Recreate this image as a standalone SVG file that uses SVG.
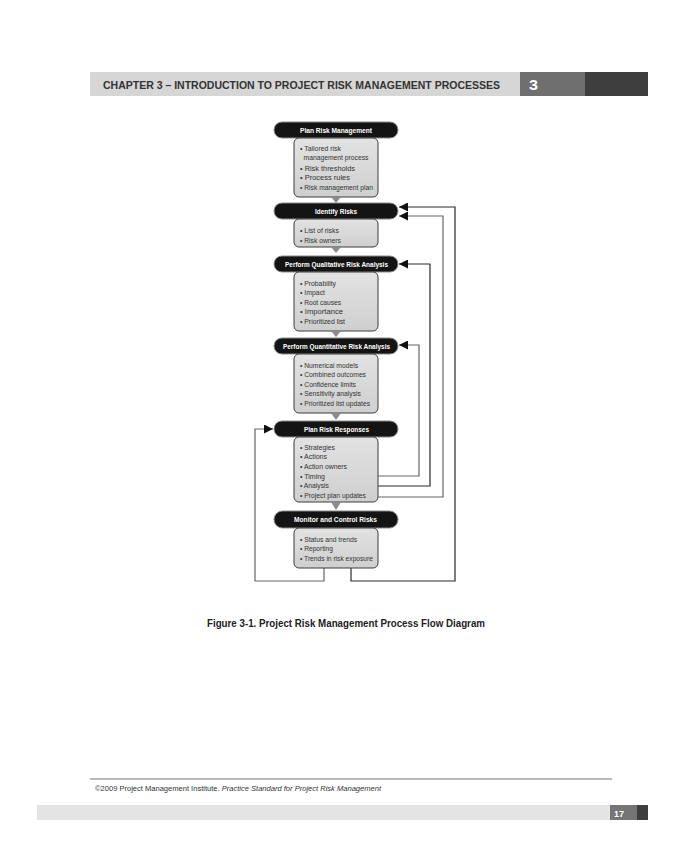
<svg xmlns="http://www.w3.org/2000/svg" width="684" height="864" viewBox="0 0 684 864">
  <defs>
    <linearGradient id="boxFill" x1="0" y1="0" x2="0" y2="1">
      <stop offset="0" stop-color="#e2e2e2"/>
      <stop offset="1" stop-color="#cfcfcf"/>
    </linearGradient>
    <marker id="arrow" viewBox="0 0 10 10" refX="10" refY="5" markerWidth="10" markerHeight="9" markerUnits="userSpaceOnUse" orient="auto">
      <path d="M0,0 L10,5 L0,10 Z" fill="#111"/>
    </marker>
  </defs>
  <style>
    .hdr { font-family: "Liberation Sans", "DejaVu Sans Condensed", sans-serif; font-weight: bold; }
    .pill { fill: #141414; stroke: #8a8a8a; stroke-width: 1; }
    .pill-text { font-family: "Liberation Sans", "DejaVu Sans Condensed", sans-serif; font-weight: bold; font-size: 7px; fill: #ffffff; }
    .box { fill: url(#boxFill); stroke: #3c3c3c; stroke-width: 1; }
    .item { font-family: "Liberation Sans", "DejaVu Sans Condensed", sans-serif; font-size: 7.3px; fill: #333333; }
    .tri { fill: #8c8c8c; }
    .link { fill: none; stroke-width: 1.2; }
    .dark { stroke: #2a2a2a; }
    .grey { stroke: #666666; }
  </style>

  <rect width="684" height="864" fill="#ffffff"/>

  <!-- page header -->
  <g id="header">
    <rect x="90" y="72" width="430" height="24" fill="#d6d6d6"/>
    <rect x="520" y="72" width="65" height="24" fill="#6f6f6f"/>
    <rect x="585" y="72" width="63" height="24" fill="#3e3e3e"/>
    <text class="hdr" x="103" y="89" font-size="11" fill="#333333" textLength="397" lengthAdjust="spacingAndGlyphs">CHAPTER 3 – INTRODUCTION TO PROJECT RISK MANAGEMENT PROCESSES</text>
    <text class="hdr" x="529" y="90" font-size="15" fill="#ffffff" textLength="9" lengthAdjust="spacingAndGlyphs">3</text>
  </g>

  <!-- connectors -->
  <g id="connectors">
    <!-- Plan Risk Responses back to Quantitative -->
    <polyline class="link grey" points="377,476 419,476 419,345 399,345" marker-end="url(#arrow)"/>
    <!-- Plan Risk Responses back to Qualitative -->
    <polyline class="link dark" points="377,486 430,486 430,264 399,264" marker-end="url(#arrow)"/>
    <!-- Plan Risk Responses back to Identify Risks -->
    <polyline class="link grey" points="377,497 443,497 443,216 399,216" marker-end="url(#arrow)"/>
    <!-- Monitor back to Identify Risks -->
    <polyline class="link dark" points="351,568 351,581 455,581 455,207 399,207" marker-end="url(#arrow)"/>
    <!-- Monitor back to Plan Risk Responses -->
    <polyline class="link grey" points="324,568 324,581 255,581 255,429 273,429" marker-end="url(#arrow)"/>
  </g>

  <!-- process steps -->
  <g id="plan-risk-management">
    <rect class="pill" x="274" y="122" width="124" height="16" rx="8"/>
    <text class="pill-text" x="300" y="132.5" textLength="72" lengthAdjust="spacingAndGlyphs">Plan Risk Management</text>
    <rect class="box" x="294" y="138" width="84" height="59" rx="5"/>
    <text class="item" x="300" y="150.5" textLength="41" lengthAdjust="spacingAndGlyphs">• Tailored risk</text>
    <text class="item" x="303.5" y="160" textLength="65" lengthAdjust="spacingAndGlyphs">management process</text>
    <text class="item" x="300" y="170.5" textLength="55" lengthAdjust="spacingAndGlyphs">• Risk thresholds</text>
    <text class="item" x="300" y="180" textLength="50" lengthAdjust="spacingAndGlyphs">• Process rules</text>
    <text class="item" x="300" y="189.5" textLength="73" lengthAdjust="spacingAndGlyphs">• Risk management plan</text>
    <polygon class="tri" points="331,197 341,197 336,203"/>
  </g>

  <g id="identify-risks">
    <rect class="pill" x="274" y="203" width="124" height="16" rx="8"/>
    <text class="pill-text" x="315" y="213.5" textLength="42" lengthAdjust="spacingAndGlyphs">Identify Risks</text>
    <rect class="box" x="294" y="219" width="84" height="28" rx="5"/>
    <text class="item" x="300" y="233" textLength="39" lengthAdjust="spacingAndGlyphs">• List of risks</text>
    <text class="item" x="300" y="243" textLength="41" lengthAdjust="spacingAndGlyphs">• Risk owners</text>
    <polygon class="tri" points="331,247 341,247 336,253"/>
  </g>

  <g id="qualitative-analysis">
    <rect class="pill" x="274" y="256" width="124" height="16" rx="8"/>
    <text class="pill-text" x="285" y="266.5" textLength="103" lengthAdjust="spacingAndGlyphs">Perform Qualitative Risk Analysis</text>
    <rect class="box" x="294" y="272" width="84" height="59" rx="5"/>
    <text class="item" x="300" y="285.5" textLength="36" lengthAdjust="spacingAndGlyphs">• Probability</text>
    <text class="item" x="300" y="295" textLength="25" lengthAdjust="spacingAndGlyphs">• Impact</text>
    <text class="item" x="300" y="304.5" textLength="41" lengthAdjust="spacingAndGlyphs">• Root causes</text>
    <text class="item" x="300" y="314" textLength="43" lengthAdjust="spacingAndGlyphs">• Importance</text>
    <text class="item" x="300" y="323.5" textLength="45" lengthAdjust="spacingAndGlyphs">• Prioritized list</text>
    <polygon class="tri" points="331,331 341,331 336,337"/>
  </g>

  <g id="quantitative-analysis">
    <rect class="pill" x="274" y="338" width="124" height="16" rx="8"/>
    <text class="pill-text" x="283" y="348.5" textLength="107" lengthAdjust="spacingAndGlyphs">Perform Quantitative Risk Analysis</text>
    <rect class="box" x="294" y="354" width="84" height="59" rx="5"/>
    <text class="item" x="300" y="367.5" textLength="58" lengthAdjust="spacingAndGlyphs">• Numerical models</text>
    <text class="item" x="300" y="377" textLength="66" lengthAdjust="spacingAndGlyphs">• Combined outcomes</text>
    <text class="item" x="300" y="386.5" textLength="56" lengthAdjust="spacingAndGlyphs">• Confidence limits</text>
    <text class="item" x="300" y="396" textLength="61" lengthAdjust="spacingAndGlyphs">• Sensitivity analysis</text>
    <text class="item" x="300" y="405.5" textLength="70" lengthAdjust="spacingAndGlyphs">• Prioritized list updates</text>
    <polygon class="tri" points="331,413 341,413 336,420"/>
  </g>

  <g id="plan-risk-responses">
    <rect class="pill" x="274" y="421" width="124" height="16" rx="8"/>
    <text class="pill-text" x="304" y="431.5" textLength="65" lengthAdjust="spacingAndGlyphs">Plan Risk Responses</text>
    <rect class="box" x="294" y="437" width="84" height="65" rx="5"/>
    <text class="item" x="300" y="449.5" textLength="35" lengthAdjust="spacingAndGlyphs">• Strategies</text>
    <text class="item" x="300" y="459" textLength="27" lengthAdjust="spacingAndGlyphs">• Actions</text>
    <text class="item" x="300" y="469" textLength="47" lengthAdjust="spacingAndGlyphs">• Action owners</text>
    <text class="item" x="300" y="478.5" textLength="25" lengthAdjust="spacingAndGlyphs">• Timing</text>
    <text class="item" x="300" y="488" textLength="29" lengthAdjust="spacingAndGlyphs">• Analysis</text>
    <text class="item" x="300" y="498" textLength="66" lengthAdjust="spacingAndGlyphs">• Project plan updates</text>
    <polygon class="tri" points="331,502 341,502 336,510"/>
  </g>

  <g id="monitor-control">
    <rect class="pill" x="274" y="511" width="124" height="17" rx="8.5"/>
    <text class="pill-text" x="294" y="522" textLength="83" lengthAdjust="spacingAndGlyphs">Monitor and Control Risks</text>
    <rect class="box" x="294" y="528" width="84" height="40" rx="5"/>
    <text class="item" x="300" y="541.5" textLength="57" lengthAdjust="spacingAndGlyphs">• Status and trends</text>
    <text class="item" x="300" y="551" textLength="33" lengthAdjust="spacingAndGlyphs">• Reporting</text>
    <text class="item" x="300" y="560.5" textLength="73" lengthAdjust="spacingAndGlyphs">• Trends in risk exposure</text>
  </g>

  <!-- caption -->
  <g id="caption">
    <text class="hdr" x="207" y="627" font-size="10.5" fill="#222222" textLength="278" lengthAdjust="spacingAndGlyphs">Figure 3-1. Project Risk Management Process Flow Diagram</text>
  </g>

  <!-- page footer -->
  <g id="footer">
    <line x1="90" y1="779" x2="612" y2="779" stroke="#777777" stroke-width="1"/>
    <text x="95" y="791" font-family="'Liberation Sans', 'DejaVu Sans Condensed', sans-serif" font-size="7.5" fill="#333333" textLength="286" lengthAdjust="spacingAndGlyphs">©2009 Project Management Institute. <tspan font-style="italic">Practice Standard for Project Risk Management</tspan></text>
    <rect x="37" y="805" width="573" height="15" fill="#e4e4e4"/>
    <rect x="610" y="805" width="27" height="15" fill="#757575"/>
    <rect x="637" y="805" width="11" height="15" fill="#3e3e3e"/>
    <text class="hdr" x="614" y="816.5" font-size="9.5" fill="#ffffff" textLength="10" lengthAdjust="spacingAndGlyphs">17</text>
  </g>
</svg>
